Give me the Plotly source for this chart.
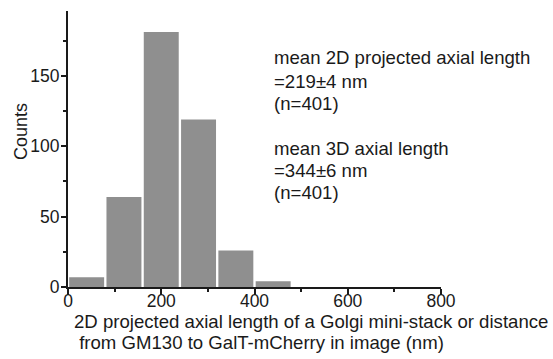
import plotly.graph_objects as go

bin_centers = [40, 120, 200, 280, 360, 440]
counts = [7, 64, 181, 119, 26, 4]
x_ticks = [0, 200, 400, 600, 800]
y_ticks = [0, 50, 100, 150]
x_minor = [100, 300, 500, 700]
y_minor = [25, 75, 125, 175]

stats_lines = ["mean 2D projected axial length", "=219±4 nm", "(n=401)",
               "mean 3D axial length", "=344±6 nm", "(n=401)"]
stats_y_px = [58, 81, 103, 148, 170, 192]
xtitle_lines = ["2D projected axial length of a Golgi mini-stack or distance",
                "&nbsp;from GM130 to GalT-mCherry in image (nm)"]
xtitle_x_px = [72, 72]
xtitle_y_px = [321, 342]

FONT = "Liberation Sans, Arial, sans-serif"
L, R, T, B = 68, 112, 11, 72
W, H = 553, 359
PW, PH = W - L - R, H - T - B


def px(x):
    return (x - L) / PW


def py(y):
    return (H - B - y) / PH


fig = go.Figure()
fig.add_trace(go.Bar(
    x=bin_centers, y=counts, width=75,
    marker=dict(color="#8f8f8f", line=dict(width=0)),
    hoverinfo="skip",
))

axis_common = dict(
    ticks="outside", tickwidth=1.5, tickcolor="#1a1a1a", showline=True,
    linecolor="#1a1a1a", linewidth=2, showgrid=False, zeroline=False,
    automargin=False, tickfont=dict(size=17.5),
)

fig.update_layout(
    width=W, height=H,
    margin=dict(l=L, r=R, t=T, b=B),
    plot_bgcolor="white", paper_bgcolor="white",
    showlegend=False,
    font=dict(family=FONT, size=18, color="#1a1a1a"),
    xaxis=dict(
        range=[0, 800], tickvals=x_ticks, ticklen=6, ticklabelstandoff=-9,
        minor=dict(tickvals=x_minor, ticks="outside", ticklen=3,
                   tickwidth=1.5, tickcolor="#1a1a1a"),
        **axis_common,
    ),
    yaxis=dict(
        range=[0, 196], tickvals=y_ticks, ticklen=5, ticklabelstandoff=-2,
        minor=dict(tickvals=y_minor, ticks="outside", ticklen=3,
                   tickwidth=1.5, tickcolor="#1a1a1a"),
        **axis_common,
    ),
)

fig.add_annotation(
    xref="paper", yref="paper", x=px(21), y=py(132), text="Counts", textangle=-90,
    showarrow=False, font=dict(size=18), xanchor="center", yanchor="middle",
)
for txt, xp, yp in zip(xtitle_lines, xtitle_x_px, xtitle_y_px):
    fig.add_annotation(
        xref="paper", yref="paper", x=px(xp), y=py(yp), text=txt,
        showarrow=False, font=dict(size=18.6), xanchor="left", yanchor="middle",
    )
for txt, yp in zip(stats_lines, stats_y_px):
    fig.add_annotation(
        xref="paper", yref="paper", x=px(272), y=py(yp), text=txt,
        showarrow=False, font=dict(size=18.6), xanchor="left", yanchor="middle",
    )

fig.write_html("out.html", config={"displayModeBar": False},
               post_script="document.body.style.margin='0px';")
